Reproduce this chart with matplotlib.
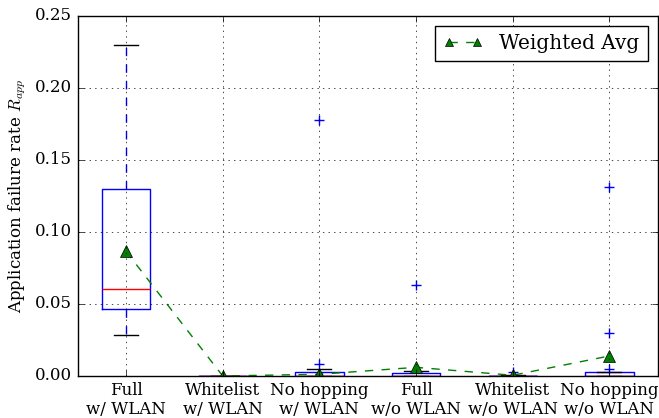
import matplotlib
matplotlib.use("Agg")
import matplotlib.pyplot as plt

plt.style.use("classic")
plt.rcParams["font.family"] = ["DejaVu Serif"]
plt.rcParams["mathtext.fontset"] = "cm"

# Scenario labels
categories = ["Full\nw/ WLAN", "Whitelist\nw/ WLAN", "No hopping\nw/ WLAN",
              "Full\nw/o WLAN", "Whitelist\nw/o WLAN", "No hopping\nw/o WLAN"]

# Box statistics per scenario
q1 = [0.0465, 0.0, 0.0, 0.0, 0.0, 0.0]
median = [0.0605, 0.0, 0.0002, 0.0002, 0.0, 0.0003]
q3 = [0.1297, 0.0, 0.0025, 0.002, 0.0003, 0.0025]
whisker_low = [0.0285, 0.0, 0.0, 0.0, 0.0, 0.0]
whisker_high = [0.2299, 0.0, 0.0046, 0.0037, 0.0005, 0.0025]
fliers = [[], [], [0.0085, 0.178], [0.063], [0.003], [0.0046, 0.0296, 0.131]]

# Weighted average failure rate per scenario
weighted_avg = [0.0865, 0.0, 0.0012, 0.006, 0.0005, 0.0139]

stats = []
for i, lab in enumerate(categories):
    stats.append(dict(label=lab, q1=q1[i], med=median[i], q3=q3[i],
                      whislo=whisker_low[i], whishi=whisker_high[i],
                      fliers=fliers[i]))

fig = plt.figure(figsize=(6.59, 4.18), dpi=100, facecolor="white")
ax = fig.add_axes([0.118, 0.1005, 0.880, 0.8615])

positions = list(range(1, len(categories) + 1))
ax.bxp(stats, positions=positions, widths=0.5,
       flierprops=dict(marker="+", markeredgecolor="blue", markersize=7,
                       linestyle="none"))
ax.plot(positions, weighted_avg, linestyle="--", color="green", marker="^",
        markerfacecolor="green", markeredgecolor="black", markersize=8,
        label="Weighted Avg")

ax.set_xlim(0.5, 6.5)
ax.set_ylim(0, 0.25)
ax.set_xticks(positions)
ax.set_xticklabels(categories)
ax.set_yticks([0, 0.05, 0.10, 0.15, 0.20, 0.25])
ax.yaxis.set_major_formatter(matplotlib.ticker.FormatStrFormatter("%.2f"))
ax.set_ylabel(r"Application failure rate $R_{app}$")
ax.grid(True, linestyle=":", color="black")
ax.legend(loc="upper right", numpoints=2, fancybox=False, markerscale=0.75)

fig.savefig("out.png", dpi=100, facecolor="white")
